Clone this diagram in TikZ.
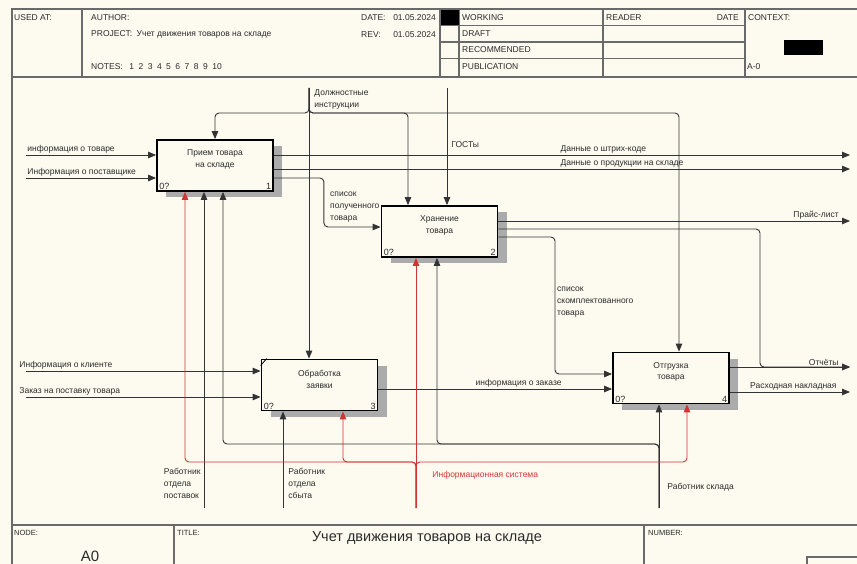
\documentclass[tikz,border=0pt]{standalone}
\usepackage{fontspec}
\setmainfont{Liberation Sans}
\usepackage{xcolor}
\definecolor{Paper}{HTML}{FDFBF0}
\definecolor{Ink}{HTML}{2A2A2A}
\definecolor{Frame}{HTML}{6A6A6A}
\definecolor{Wire}{HTML}{333333}
\definecolor{RedWire}{HTML}{D23333}
\definecolor{Hatch}{HTML}{ABABAB}
\usepackage{tikz}
\usetikzlibrary{arrows.meta,positioning,calc,shadows,patterns}
\tikzset{
  frame/.style={draw=Frame,line width=1.1pt},
  act/.style={draw=black,fill=Paper,line width=1.8pt,minimum width=116pt,minimum height=51pt,inner sep=0pt,
    drop shadow={shadow xshift=9pt,shadow yshift=-6pt,opacity=1,fill=Hatch}},
  acttext/.style={font=\fontsize{8.5}{11.5}\selectfont,align=center,text=Ink,inner sep=0pt},
  num/.style={font=\fontsize{9}{10}\selectfont,text=Ink,inner sep=1pt},
  wire/.style={draw=Wire,line width=.9pt,rounded corners=4pt,-{Triangle[length=8pt,width=6.5pt]}},
  redwire/.style={wire,draw=RedWire},
  lab/.style={font=\fontsize{8.5}{12}\selectfont,text=Ink,inner sep=1pt},
  lab3/.style={lab,align=left},
  hdr/.style={font=\fontsize{8.5}{10}\selectfont,text=Ink,anchor=west,inner sep=0pt},
  foot/.style={font=\fontsize{7.5}{9}\selectfont,text=Ink,anchor=west,inner sep=0pt}
}
\begin{document}
\begin{tikzpicture}[x=1pt,y=-1pt]
\fill[Paper] (0,0) rectangle (857,564);
\useasboundingbox (0,0) rectangle (857,564);

\draw[frame] (857,9) -- (12,9) -- (12,564);
\draw[frame] (12,77) -- (857,77);
\draw[frame] (12,525) -- (857,525);
\draw[frame] (82,9) -- (82,77) (440,9) -- (440,77) (459,9) -- (459,77) (603,9) -- (603,77) (745,9) -- (745,77);
\draw[frame] (440,25.5) -- (745,25.5) (440,42) -- (745,42) (440,58.5) -- (745,58.5);
\draw[frame] (174,525) -- (174,564) (644,525) -- (644,564);
\draw[frame] (807,564) |- (857,557);
\fill[black] (441,10) rectangle (458.5,25);
\fill[black] (784,40) rectangle (823,55);

\node[hdr] (usedat) at (14,18) {USED AT:};
\node[hdr] (author) at (91,18) {AUTHOR:};
\node[hdr] (project) at (91,34) {PROJECT:};
\node[hdr,right=4pt of project] (projname) {Учет движения товаров на складе};
\node[hdr] (notes) at (91,67) {\spaceskip=4.5pt NOTES:\hspace{2pt} 1 2 3 4 5 6 7 8 9 10};
\node[hdr] (date) at (361,18) {DATE:};
\node[hdr,anchor=east] (dateval) at (436,18) {01.05.2024};
\node[hdr] (rev) at (361,35) {REV:};
\node[hdr,anchor=east] (revval) at (436,35) {01.05.2024};
\node[hdr] (st1) at (462,18) {WORKING};
\node[hdr] (st2) at (462,34) {DRAFT};
\node[hdr] (st3) at (462,50) {RECOMMENDED};
\node[hdr] (st4) at (462,67) {PUBLICATION};
\node[hdr] (reader) at (606,18) {READER};
\node[hdr,anchor=east] (rdate) at (739,18) {DATE};
\node[hdr] (context) at (748,18) {CONTEXT:};
\node[hdr] (ctxnode) at (747,67) {A-0};
\node[foot] (nodelab) at (14,533) {NODE:};
\node[foot] (titlelab) at (177,533) {TITLE:};
\node[foot] (numlab) at (648,533) {NUMBER:};
\node[font=\fontsize{14.5}{16}\selectfont,text=Ink,inner sep=0pt] (title) at (427,538) {Учет движения товаров на складе};
\node[font=\fontsize{15}{16}\selectfont,text=Ink,inner sep=0pt] (nodeval) at (90,556) {A0};

\node[act] (b1) at (215,165.5) {};
\node[act] (b2) at (439.5,231.5) {};
\node[act] (b3) at (319.5,385) {};
\node[act] (b4) at (671,378) {};
\node[acttext,below=10.5pt of b1.north] (b1t) {Прием товара\\на складе};
\node[acttext,below=10.5pt of b2.north] (b2t) {Хранение\\товара};
\node[acttext,below=11.5pt of b3.north] (b3t) {Обработка\\заявки};
\node[acttext,below=10.5pt of b4.north] (b4t) {Отгрузка\\товара};
\node[num,above right=1pt and 2pt of b1.south west] (b1c) {0?};
\node[num,above left=1pt and 1.5pt of b1.south east] (b1n) {1};
\node[num,above right=1pt and 2pt of b2.south west] (b2c) {0?};
\node[num,above left=1pt and 1.5pt of b2.south east] (b2n) {2};
\node[num,above right=1pt and 2pt of b3.south west] (b3c) {0?};
\node[num,above left=1pt and 1.5pt of b3.south east] (b3n) {3};
\node[num,above right=1pt and 2pt of b4.south west] (b4c) {0?};
\node[num,above left=1pt and 1.5pt of b4.south east] (b4n) {4};
\draw[line width=.8pt] ([yshift=-7pt]b3.north west) -- ([xshift=6pt]b3.north west);

\coordinate (iTov) at (26,155);
\coordinate (iPost) at (26,178);
\coordinate (iCli) at (26,371);
\coordinate (iZak) at (26,397);
\coordinate (oBar) at (850,155);
\coordinate (oProd) at (850,169);
\coordinate (oPrice) at (850,221);
\coordinate (oRep) at (850,367);
\coordinate (oNak) at (850,392);
\coordinate (cInstr) at (309,88);
\coordinate (cGost) at (447,88);
\coordinate (jInstr) at (309,113);
\coordinate (mPost) at (204,508);
\coordinate (mSbyt) at (283,508);
\coordinate (mSklad) at (659,508);
\coordinate (mInfo) at (416,508);
\coordinate (jSklad) at (659,444);
\coordinate (jInfo) at (416,462);
\coordinate (b2ci) at ([xshift=-31.5pt]b2.north);
\coordinate (b4ci) at ([xshift=8pt]b4.north);
\coordinate (b1mi) at ([xshift=-30pt]b1.south);
\coordinate (b1ms) at ([xshift=8pt]b1.south);
\coordinate (b2ms) at ([xshift=-2.5pt]b2.south);
\coordinate (b3mi) at ([xshift=23.5pt]b3.south);
\coordinate (b4mi) at ([xshift=16pt]b4.south);

\draw[wire] (iTov) -- node[lab,pos=0,anchor=south west] (lTov) {информация о товаре} (iTov -| b1.west);
\draw[wire] (iPost) -- node[lab,pos=0,anchor=south west] (lPost) {Информация о поставщике} (iPost -| b1.west);
\draw[wire] (iCli) -- node[lab,pos=0,anchor=south west,xshift=-8pt] (lCli) {Информация о клиенте} (iCli -| b3.west);
\draw[wire] (iZak) -- node[lab,pos=0,anchor=south west,xshift=-8pt] (lZak) {Заказ на поставку товара} (iZak -| b3.west);

\draw[wire] (b1.east |- oBar) -- node[lab,pos=.495,anchor=south west] (lBar) {Данные о штрих-коде} (oBar);
\draw[wire] (b1.east |- oProd) -- node[lab,pos=.495,anchor=south west] (lProd) {Данные о продукции на складе} (oProd);
\draw[wire] (b1.east |- iPost) -- ++(50,0) |- (b2.west |- 0,227);
\node[lab3,anchor=north west] (lGot) at (329,191) {список\\полученного\\товара};
\draw[wire] (b2.east |- oPrice) -- node[lab,pos=.972,anchor=south east] (lPrice) {Прайс-лист} (oPrice);
\draw[wire] (b2.east |- 0,229) -- (760,229) |- (oRep);
\draw[wire] (b2.east |- 0,237) -- (555,237) |- (b4.west |- 0,374);
\node[lab3,anchor=north west] (lSet) at (556,286) {список\\скомплектованного\\товара};
\draw[wire] (b3.east |- 0,389) -- node[lab,pos=.6,anchor=south] (lOrder) {информация о заказе} (b4.west |- 0,389);
\draw[wire] (b4.east |- oRep) -- node[lab,pos=.917,anchor=south east] (lRep) {Отчёты} (oRep);
\draw[wire] (b4.east |- oNak) -- node[lab,pos=.9,anchor=south east] (lNak) {Расходная накладная} (oNak);

\draw[wire] (cInstr) -- node[lab3,pos=0,anchor=north west,xshift=4pt] (lInstr) {Должностные\\инструкции} (cInstr |- b3.north);
\draw[wire] (cInstr) |- (b1.north |- jInstr) -- (b1.north);
\draw[wire] (cInstr) |- (b2ci |- jInstr) -- (b2ci);
\draw[wire] (cInstr) |- (b4ci |- jInstr) -- (b4ci);
\draw[wire] (cGost) -- node[lab,pos=.48,anchor=west,xshift=3pt] (lGost) {ГОСТы} (cGost |- b2.north);

\draw[wire] (mPost) -- node[lab3,pos=.13,anchor=north east,xshift=-2pt] (lMPost) {Работник\\отдела\\поставок} (mPost |- b1.south);
\draw[wire] (mSbyt) -- node[lab3,pos=.43,anchor=north west,xshift=4pt] (lSbyt) {Работник\\отдела\\сбыта} (mSbyt |- b3.south);
\draw[wire] (mSklad) -- node[lab,pos=.2,anchor=west,xshift=7pt] (lSklad) {Работник склада} (mSklad |- b4.south);
\draw[wire] (mSklad) |- (b2ms |- jSklad) -- (b2ms);
\draw[wire] (mSklad) |- (b1ms |- jSklad) -- (b1ms);
\draw[redwire] (mInfo) -- node[lab,text=RedWire,pos=.13,anchor=west,xshift=15pt] (lInfo) {Информационная система} (mInfo |- b2.south);
\draw[redwire] (mInfo) |- (b1mi |- jInfo) -- (b1mi);
\draw[redwire] (mInfo) |- (b3mi |- jInfo) -- (b3mi);
\draw[redwire] (mInfo) |- (b4mi |- jInfo) -- (b4mi);
\end{tikzpicture}
\end{document}
